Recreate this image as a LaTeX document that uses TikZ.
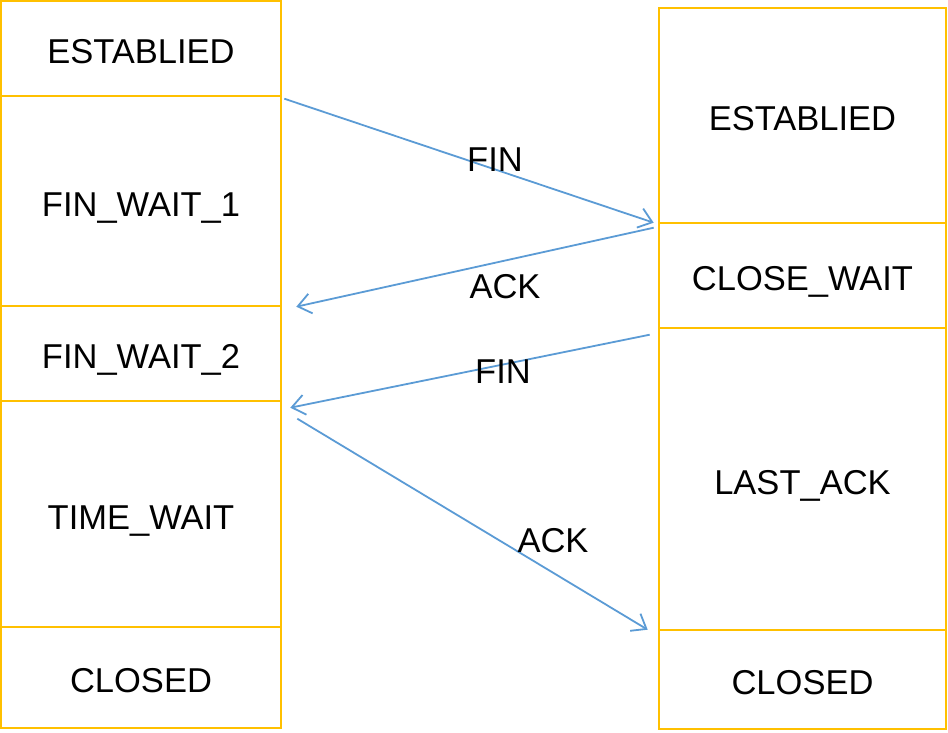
\documentclass[tikz,border=0pt]{standalone}
\usepackage{fontspec}
\setmainfont{Liberation Sans}
\usetikzlibrary{arrows.meta,calc}
\definecolor{boxc}{HTML}{FFC000}
\definecolor{arrc}{HTML}{5B9BD5}
\tikzset{
  statebox/.style={draw=boxc, line width=2.6pt, rectangle, inner sep=0pt, text height=30pt, text depth=0pt, font=\fontsize{34.5}{40}\selectfont},
  msg/.style={draw=arrc, line width=1.8pt, -{Straight Barb[length=13pt,width=20pt]}},
  lbl/.style={font=\fontsize{34.5}{40}\selectfont, inner sep=0pt}
}
\begin{document}
\begin{tikzpicture}[x=1pt,y=-1pt]
\useasboundingbox (0,0) rectangle (948,732);
% left column
\node[statebox, minimum width=280pt, minimum height=95pt] (L1) at (141,48.5) {ESTABLIED};
\node[statebox, minimum width=280pt, minimum height=210pt] (L2) at (141,201) {FIN\_WAIT\_1};
\node[statebox, minimum width=280pt, minimum height=95pt] (L3) at (141,353.5) {FIN\_WAIT\_2};
\node[statebox, minimum width=280pt, minimum height=226pt] (L4) at (141,514) {TIME\_WAIT};
\node[statebox, minimum width=280pt, minimum height=101pt] (L5) at (141,677.5) {CLOSED};
% right column
\node[statebox, minimum width=287pt, minimum height=215pt] (R1) at (802.5,115.5) {ESTABLIED};
\node[statebox, minimum width=287pt, minimum height=105pt] (R2) at (802.5,275.5) {CLOSE\_WAIT};
\node[statebox, minimum width=287pt, minimum height=302pt] (R3) at (802.5,479) {LAST\_ACK};
\node[statebox, minimum width=287pt, minimum height=99pt] (R4) at (802.5,679.5) {CLOSED};
% message endpoints
\coordinate (a1s) at ($(L2.north east)+(2,4)$);
\coordinate (a1e) at ($(R2.north west)+(-4,1)$);
\coordinate (a2s) at ($(R2.north west)+(-4,6)$);
\coordinate (a2e) at ($(L3.north east)+(14,2)$);
\coordinate (a3s) at ($(R3.north west)+(-8,8)$);
\coordinate (a3e) at ($(L4.north east)+(8,8)$);
\coordinate (a4s) at ($(L4.north east)+(15,19)$);
\coordinate (a4e) at ($(R4.north west)+(-10,1)$);
\draw[msg] (a1s) -- (a1e);
\draw[msg] (a2s) -- (a2e);
\draw[msg] (a3s) -- (a3e);
\draw[msg] (a4s) -- (a4e);
% labels
\node[lbl] (t1) at (495,160) {FIN};
\node[lbl] (t2) at (505,287) {ACK};
\node[lbl] (t3) at (503,372) {FIN};
\node[lbl] (t4) at (553,541) {ACK};
\end{tikzpicture}
\end{document}
